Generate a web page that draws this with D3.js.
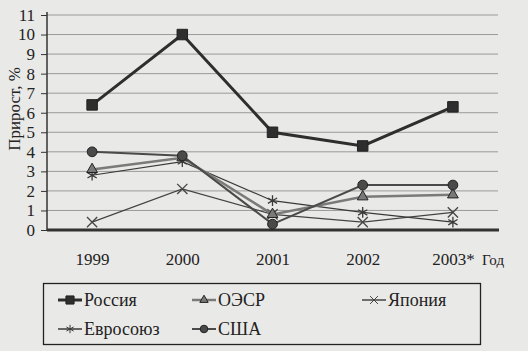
<!DOCTYPE html>
<html>
<head>
<meta charset="utf-8">
<script src="https://cdn.jsdelivr.net/npm/d3@7"></script>
<style>
  body { margin: 0; background: #e9e9e7; }
  svg text { font-family: "Liberation Serif", "DejaVu Serif", "Times New Roman", serif; }
  .grid line { stroke: #9a9a9a; stroke-width: 1; }
  .axis path, .axis line { stroke: #333; }
  .axis text { fill: #222; font-size: 17px; }
</style>
</head>
<body>
<div id="chart"></div>
<script>
// years on the x axis
const years = ["1999", "2000", "2001", "2002", "2003*"];
const yTicks = [0, 1, 2, 3, 4, 5, 6, 7, 8, 9, 10, 11];

// growth, %
const russia = [6.4, 10.0, 5.0, 4.3, 6.3];
const oecd   = [3.1, 3.7, 0.8, 1.7, 1.8];
const japan  = [0.4, 2.1, 0.8, 0.4, 0.9];
const eu     = [2.8, 3.5, 1.5, 0.9, 0.4];
const usa    = [4.0, 3.8, 0.3, 2.3, 2.3];

const seriesNames = ["Россия", "ОЭСР", "Япония", "Евросоюз", "США"];

const width = 528, height = 351;
const margin = {top: 15, right: 30, bottom: 121, left: 47};
const serif = "'Liberation Serif', 'DejaVu Serif', serif";

let svg = d3.select("#chart").append("svg")
    .attr("width", width)
    .attr("height", height);

let xScale = d3.scalePoint()
    .domain(years)
    .range([margin.left, width - margin.right])
    .padding(0.5);

let yScale = d3.scaleLinear()
    .domain([0, 11])
    .range([height - margin.bottom, margin.top]);

// horizontal grid
svg.append("g")
    .attr("class", "grid")
    .selectAll("line")
    .data(yTicks.slice(1))
    .enter().append("line")
    .attr("x1", margin.left)
    .attr("x2", width - margin.right)
    .attr("y1", d => yScale(d))
    .attr("y2", d => yScale(d));

// y axis
let yAxis = svg.append("g")
    .attr("class", "axis")
    .attr("font-family", serif)
    .attr("transform", "translate(" + margin.left + ",0)")
    .call(d3.axisLeft(yScale).tickValues(yTicks).tickSize(6).tickPadding(6));
yAxis.select(".domain").attr("stroke-width", 1.5).attr("d", "M0," + (yScale(11) - 3) + "V" + yScale(0));

// x axis: thick baseline, no ticks
let xAxis = svg.append("g")
    .attr("class", "axis")
    .attr("font-family", serif)
    .attr("transform", "translate(0," + yScale(0) + ")")
    .call(d3.axisBottom(xScale).tickSize(0).tickPadding(23));
xAxis.select(".domain").attr("stroke-width", 3).attr("stroke", "#2a2a2a")
    .attr("d", "M" + margin.left + ",0H" + (width - margin.right + 1));

svg.append("text")
    .attr("x", 482)
    .attr("y", yScale(0) + 35)
    .attr("font-size", 15)
    .attr("fill", "#222")
    .text("Год");

svg.append("text")
    .attr("transform", "translate(20," + 109 + ") rotate(-90)")
    .attr("text-anchor", "middle")
    .attr("font-size", 17)
    .attr("fill", "#222")
    .text("Прирост, %");

// series styles
const styles = [
    {values: russia, color: "#2e2e2e", width: 3,   symbol: d3.symbolSquare,   size: 110, fill: true},
    {values: oecd,   color: "#7a7a7a", width: 2.5, symbol: d3.symbolTriangle, size: 50,  fill: true},
    {values: japan,  color: "#444",    width: 1.2, symbol: d3.symbolTimes,    size: 70,  fill: false},
    {values: eu,     color: "#3a3a3a", width: 1.2, symbol: d3.symbolAsterisk, size: 80,  fill: false},
    {values: usa,    color: "#4a4a4a", width: 2,   symbol: d3.symbolCircle,   size: 75,  fill: true}
];

let line = d3.line()
    .x((d, i) => xScale(years[i]))
    .y(d => yScale(d));

// draw back to front so Russia sits on top
[2, 3, 1, 4, 0].forEach(k => {
    let s = styles[k];
    svg.append("path")
        .datum(s.values)
        .attr("fill", "none")
        .attr("stroke", s.color)
        .attr("stroke-width", s.width)
        .attr("d", line);

    svg.selectAll(".pt" + k)
        .data(s.values)
        .enter().append("path")
        .attr("class", "pt" + k)
        .attr("transform", (d, i) => "translate(" + xScale(years[i]) + "," + yScale(d) + ")")
        .attr("d", d3.symbol().type(s.symbol).size(s.size))
        .attr("fill", s.fill ? s.color : "none")
        .attr("stroke", s.fill ? "#222" : s.color)
        .attr("stroke-width", s.fill ? 1 : 1.3);
});

// legend
const legendCols = [58, 192, 362];
const legendRows = [300, 329];

svg.append("rect")
    .attr("x", 43.5)
    .attr("y", 283.5)
    .attr("width", 437)
    .attr("height", 61)
    .attr("fill", "none")
    .attr("stroke", "#222")
    .attr("stroke-width", 1.3);

let legend = svg.selectAll(".legend")
    .data(seriesNames)
    .enter().append("g")
    .attr("class", "legend")
    .attr("transform", (d, i) => "translate(" + legendCols[i % 3] + "," + legendRows[Math.floor(i / 3)] + ")");

legend.append("line")
    .attr("x1", 0).attr("x2", 24)
    .attr("stroke", (d, i) => styles[i].color)
    .attr("stroke-width", (d, i) => Math.max(styles[i].width, 1.5));

legend.append("path")
    .attr("transform", "translate(12,0)")
    .attr("d", (d, i) => d3.symbol().type(styles[i].symbol).size(styles[i].size * 0.6)())
    .attr("fill", (d, i) => styles[i].fill ? styles[i].color : "none")
    .attr("stroke", (d, i) => styles[i].fill ? "#222" : styles[i].color)
    .attr("stroke-width", 1);

legend.append("text")
    .attr("x", 26)
    .attr("dy", "0.35em")
    .attr("font-size", 18)
    .attr("fill", "#222")
    .text(d => d);
</script>
</body>
</html>
